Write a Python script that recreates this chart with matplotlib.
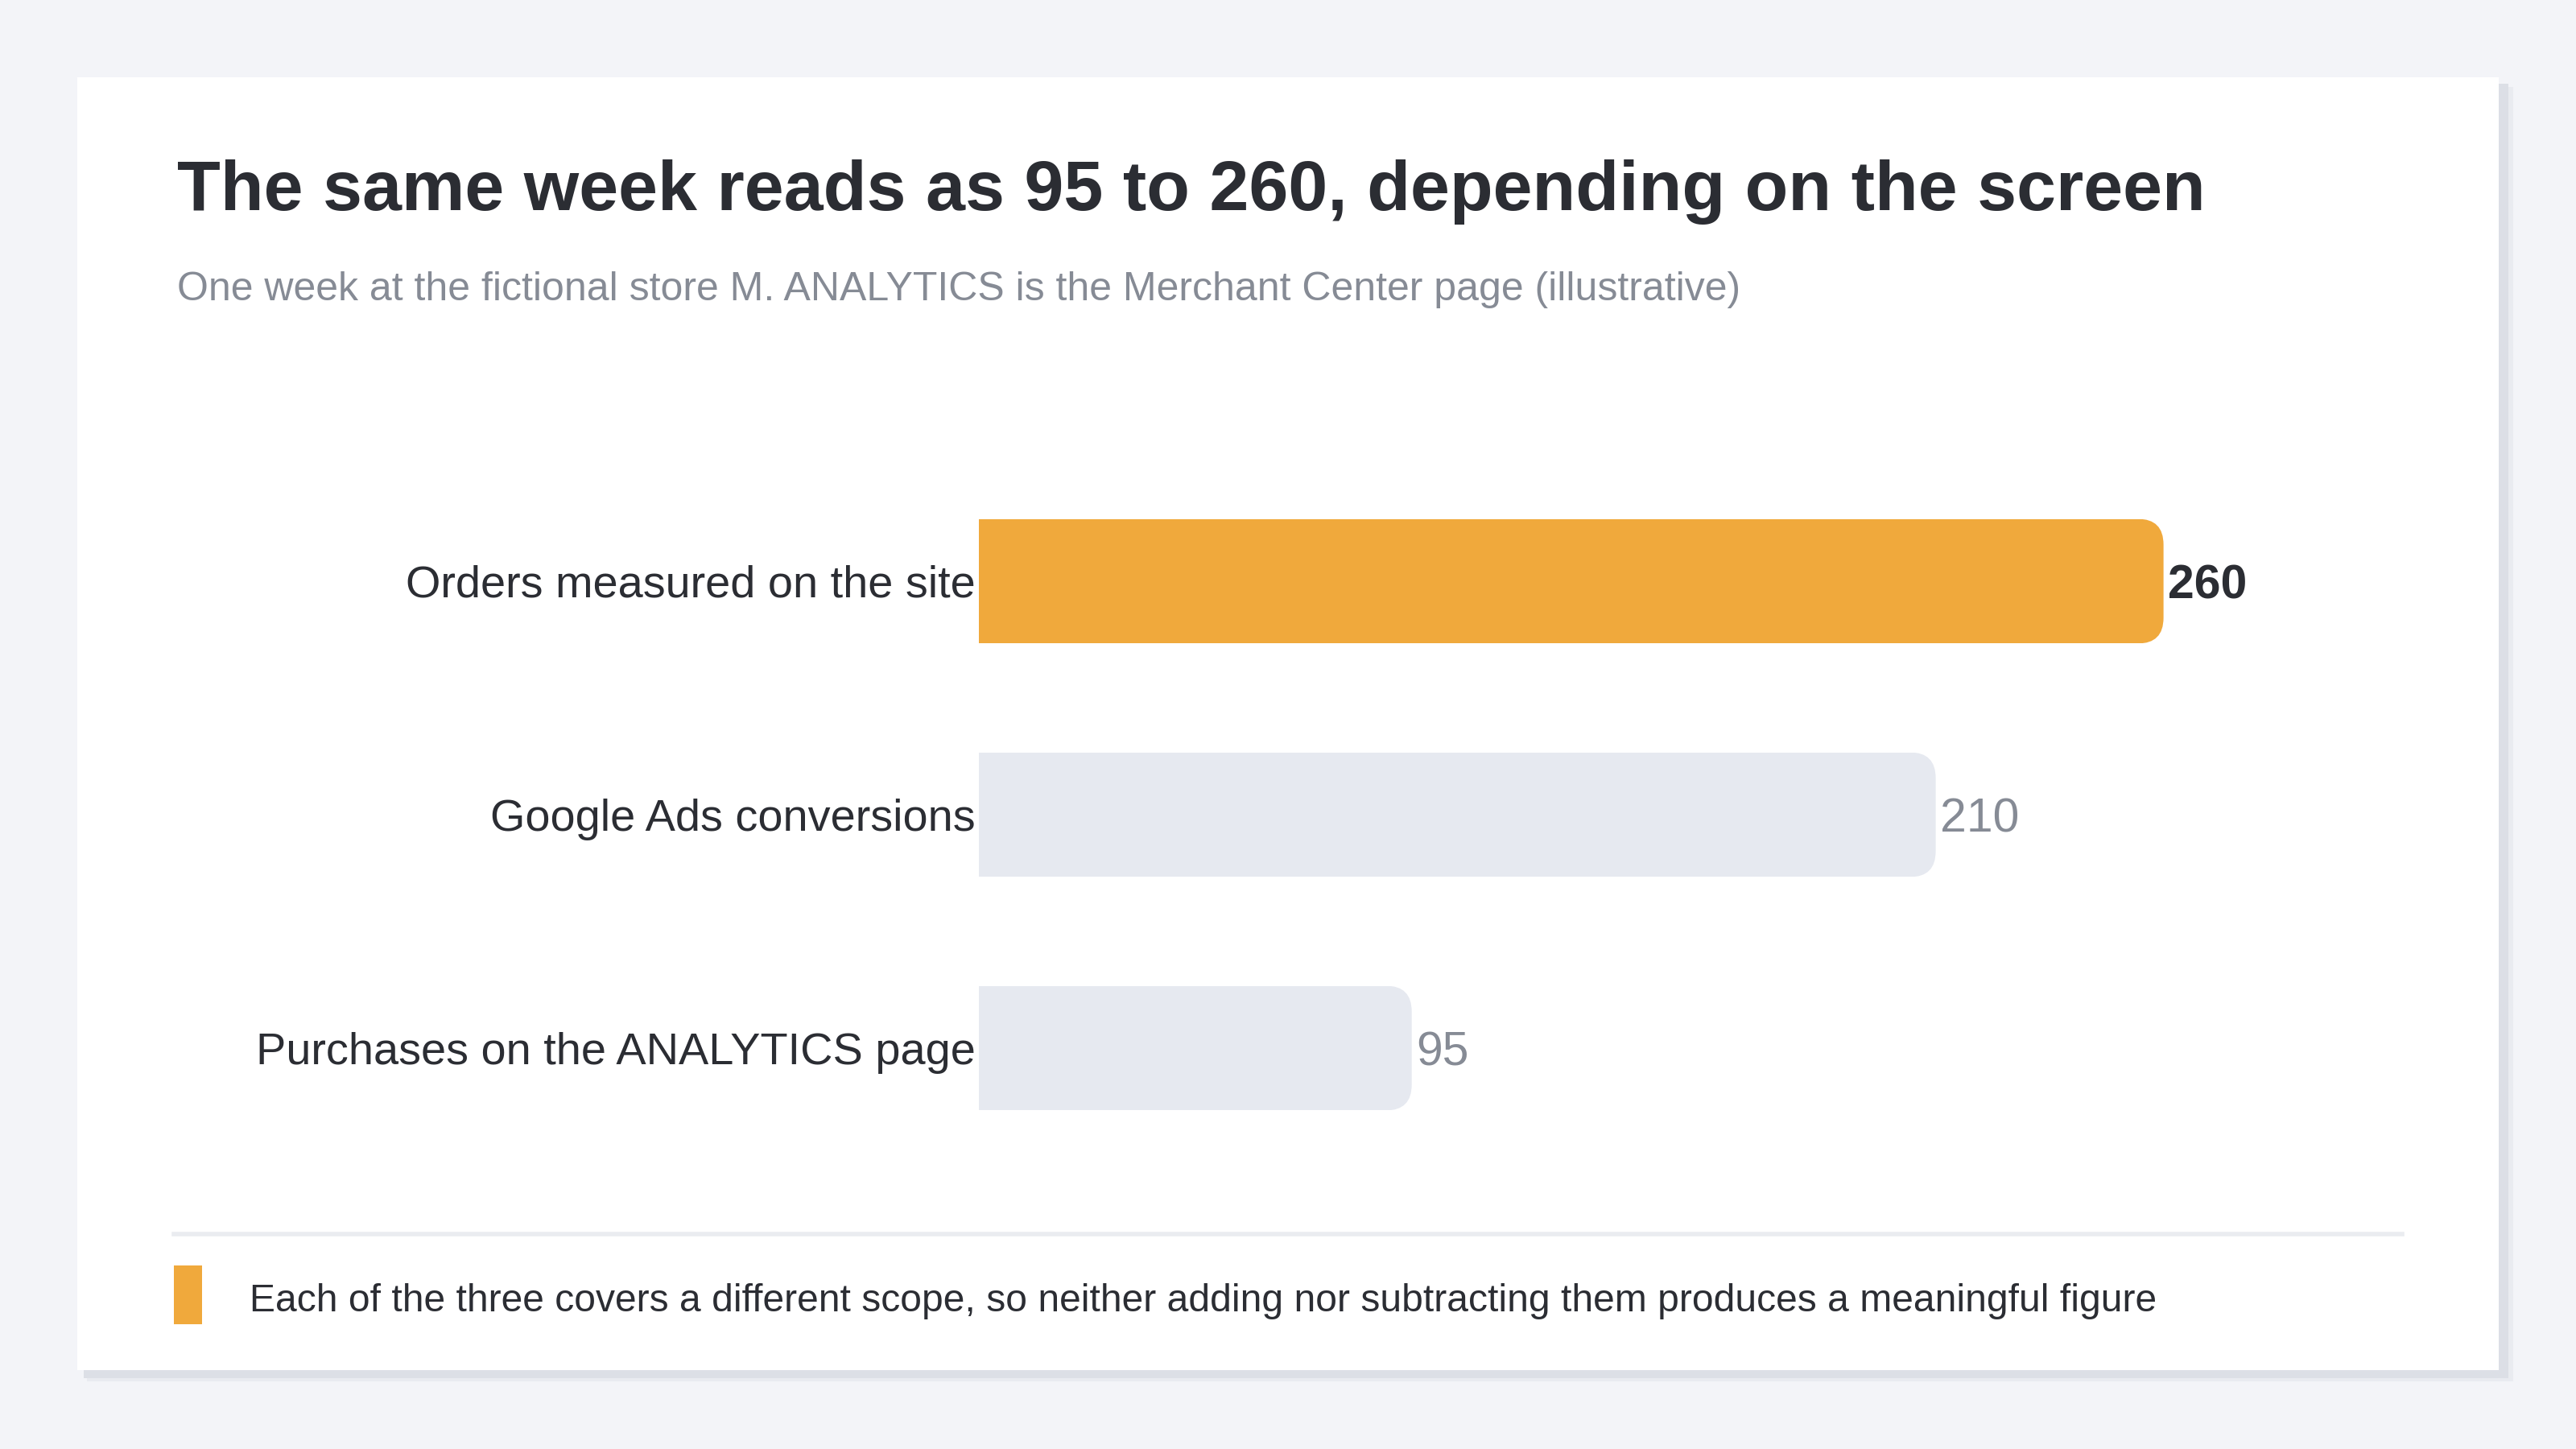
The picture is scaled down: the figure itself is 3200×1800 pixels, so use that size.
import numpy as np
import matplotlib.pyplot as plt
from matplotlib.patches import Rectangle, FancyBboxPatch

# ______________________ data ______________________

categories = ["Orders measured on the site",
              "Google Ads conversions",
              "Purchases on the ANALYTICS page"]
values = [260, 210, 95]
highlight = [True, False, False]

title = "The same week reads as 95 to 260, depending on the screen"
subtitle = "One week at the fictional store M. ANALYTICS is the Merchant Center page (illustrative)"
footnote = ("Each of the three covers a different scope, so neither adding "
            "nor subtracting them produces a meaningful figure")

# ______________________ style ______________________

W, H, DPI = 3200, 1800, 200
bg = "#f3f4f8"
dark = "#2b2d33"
grey_txt = "#868b95"
orange = "#f0a93c"
grey_bar = "#e6e9f0"

plt.rcParams['font.family'] = ['Liberation Sans', 'DejaVu Sans']


def fx(x):
    return x / W


def fy(y):
    return 1 - y / H


fig = plt.figure(figsize=(W / DPI, H / DPI), dpi=DPI, facecolor=bg)

# card + shadow
fig.patches.append(Rectangle((fx(108), fy(1716)), fx(3122 - 108), (1716 - 108) / H,
                             transform=fig.transFigure, facecolor="#e9ebf0",
                             edgecolor="none", zorder=0))
fig.patches.append(Rectangle((fx(104), fy(1712)), fx(3116 - 104), (1712 - 104) / H,
                             transform=fig.transFigure, facecolor="#dcdfe6",
                             edgecolor="none", zorder=0))
fig.patches.append(Rectangle((fx(96), fy(1702)), fx(3104 - 96), (1702 - 96) / H,
                             transform=fig.transFigure, facecolor="white",
                             edgecolor="none", zorder=1))

# titles
fig.text(fx(220), fy(261), title, fontsize=31.7, fontweight="bold",
         color=dark, va="baseline", ha="left", zorder=3)
fig.text(fx(220), fy(373), subtitle, fontsize=18, color=grey_txt,
         va="baseline", ha="left", zorder=3)

# ______________________ bars ______________________

ax_left, ax_right = 1216, 2914
ax_top, ax_bot = 577, 1447
xmax = 300
ax = fig.add_axes([fx(ax_left), fy(ax_bot), fx(ax_right - ax_left), (ax_bot - ax_top) / H])
ax.set_facecolor("none")
ax.set_zorder(2)

y = np.arange(len(values))
colors = [orange if h else grey_bar for h in highlight]
bar_h = 0.534
bars = ax.barh(y, values, height=bar_h, color=colors, edgecolor="none")
ax.set_xlim(0, xmax)
ax.set_ylim(len(values) - 0.5, -0.5)

# round the right end of every bar (radius in pixels)
px_x = (ax_right - ax_left) / xmax
px_y = (ax_bot - ax_top) / len(values)
r_px = 32
rx = r_px / px_x
for b in bars:
    x0, y0 = b.get_x(), b.get_y()
    w, h = b.get_width(), b.get_height()
    clip = FancyBboxPatch((x0 - 50, y0), w + 50, h,
                          boxstyle="round,pad=0,rounding_size=%f" % rx,
                          mutation_aspect=px_x / px_y,
                          transform=ax.transData, facecolor="none", edgecolor="none")
    ax.add_patch(clip)
    b.set_clip_path(clip)

# category labels + values
for i, (cat, v, h) in enumerate(zip(categories, values, highlight)):
    ax.text(-0.7, i, cat, ha="right", va="center_baseline", fontsize=20.1, color=dark)
    ax.text(v + 0.9, i, str(v), ha="left", va="center_baseline", fontsize=21.2,
            color=dark if h else grey_txt, fontweight="bold" if h else "normal")

ax.set_xticks([])
ax.set_yticks([])
for s in ax.spines.values():
    s.set_visible(False)

# ______________________ footer ______________________

fig.add_artist(plt.Line2D([fx(216), fx(2984)], [fy(1533), fy(1533)],
                          transform=fig.transFigure, color="#eaecf0", lw=2, zorder=3))
fig.patches.append(Rectangle((fx(216), fy(1645)), fx(251 - 216), (1645 - 1572) / H,
                             transform=fig.transFigure, facecolor=orange,
                             edgecolor="none", zorder=3))
fig.text(fx(310), fy(1629), footnote, fontsize=17.27, color=dark,
         va="baseline", ha="left", zorder=3)

fig.savefig("out.png", dpi=DPI, facecolor=bg)
